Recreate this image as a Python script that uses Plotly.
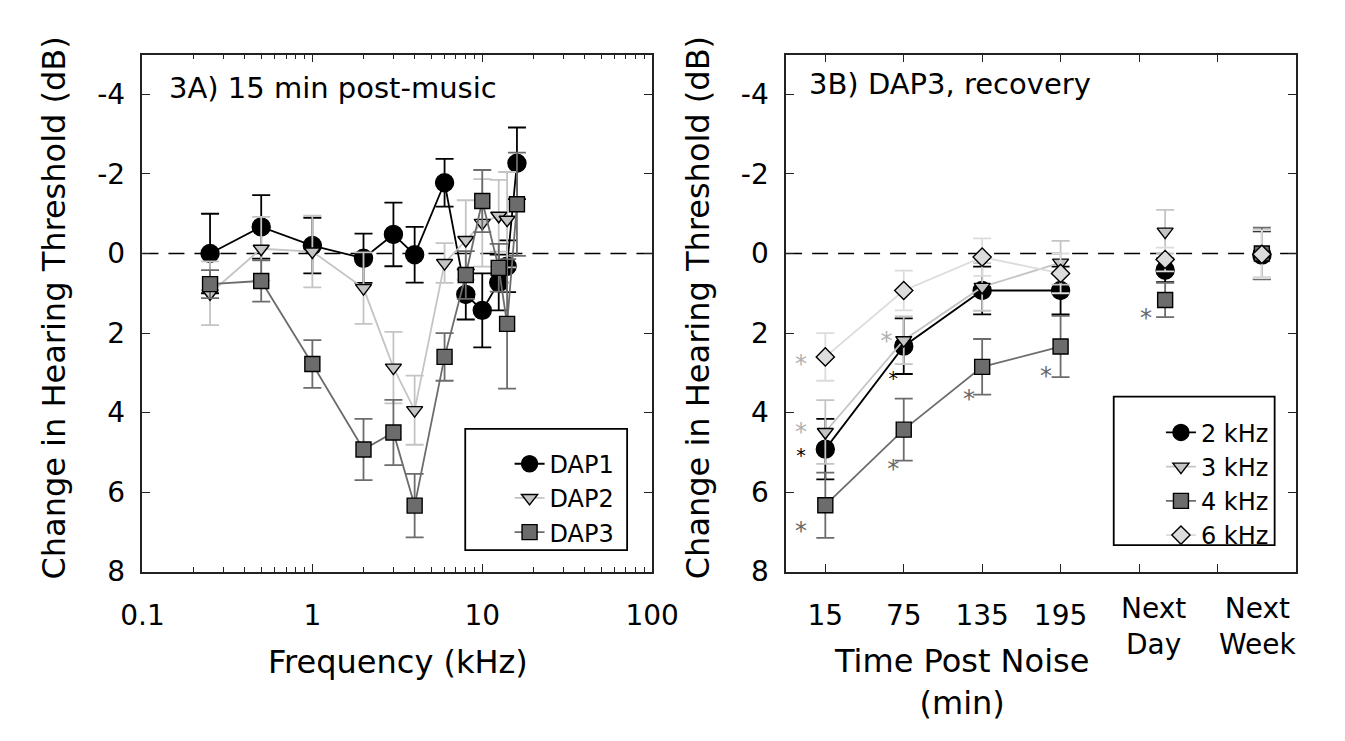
import plotly.graph_objects as go

# ---------------- data : panel 3A ----------------
freq_khz = [0.25, 0.5, 1, 2, 3, 4, 6, 8, 10, 12.5, 14, 16]
dap1 = [0.0, -0.67, -0.2, 0.12, -0.48, 0.03, -1.78, 1.03, 1.43, 0.73, 0.32, -2.27]
dap1_err = [1.0, 0.8, 0.7, 0.62, 0.8, 0.7, 0.6, 0.63, 0.93, 0.7, 0.65, 0.9]
freq_dap2 = [0.25, 0.5, 1, 2, 3, 4, 6, 8, 10, 12.5, 14]
dap2 = [1.0, -0.12, -0.05, 0.87, 2.87, 3.94, 0.24, -0.34, -0.77, -0.95, -0.85]
dap2_err = [0.8, 0.8, 0.9, 0.9, 0.9, 0.87, 0.5, 1.0, 1.1, 0.9, 1.2]
dap3 = [0.77, 0.69, 2.78, 4.93, 4.5, 6.34, 2.6, 0.54, -1.32, 0.36, 1.77, -1.24]
dap3_err = [0.35, 0.52, 0.6, 0.77, 0.82, 0.8, 0.6, 0.6, 0.78, 0.6, 1.63, 1.3]
freq_tickvals = [0.1, 1, 10, 100]
freq_ticktext = ["0.1", "1", "10", "100"]
freq_minor = [0.2, 0.3, 0.4, 0.5, 0.6, 0.7, 0.8, 0.9,
              2, 3, 4, 5, 6, 7, 8, 9, 20, 30, 40, 50, 60, 70, 80, 90]

# ---------------- data : panel 3B ----------------
time_min = [15, 75, 135, 195, 275, 349]
n_connected = 4          # first four time points are joined by lines
time_tickvals = [15, 75, 135, 195, 255, 315]
time_ticktext = ["15", "75", "135", "195", "", ""]
late_labels = ["Next<br>Day", "Next<br>Week"]
late_label_x = [266, 346]
k2 = [4.92, 2.33, 0.93, 0.93, 0.42, 0.04]
k2_err = [0.76, 0.7, 0.6, 0.6, 0.3, 0.6]
k3 = [4.49, 2.18, 0.84, 0.23, -0.55, 0.0]
k3_err = [0.8, 0.6, 0.6, 0.55, 0.55, 0.6]
k4 = [6.33, 4.43, 2.85, 2.34, 1.17, 0.0]
k4_err = [0.82, 0.78, 0.7, 0.77, 0.43, 0.65]
k6 = [2.6, 0.93, 0.09, 0.5, 0.15, 0.02]
k6_err = [0.6, 0.5, 0.47, 0.5, 0.3, 0.6]
star_x = [-3.7, -3.7, -3.7, -3.7, 61.8, 66.9, 66.9, 125, 183.8, 260.3]
star_y = [2.70, 4.42, 5.01, 6.90, 2.14, 3.07, 5.36, 3.60, 3.02, 1.55]
star_group = ["light", "light", "black", "dark", "light", "black", "dark", "dark", "dark", "dark"]

y_ticks = [-4, -2, 0, 2, 4, 6, 8]
y_ticktext = ["-4", "-2", "0", "2", "4", "6", "8"]

# ---------------- style ----------------
FONT = "DejaVu Sans"
BLACK = "#000000"
LIGHT = "#c4c4c4"
DARK = "#6c6c6c"
PALE = "#dcdcdc"
STAR_COL = {"light": "#b0b0b0", "black": "#000000", "dark": "#686868"}
STAR_SIZE = {"light": 24, "black": 19, "dark": 24}
W, H = 1345, 741


def px_x(p):
    return p / W


def px_y(p):
    return (H - p) / H


fig = go.Figure()


def add_series(x, y, err, name, symbol, size, fill, line_col, err_col, xa, ya, legend,
               mode="lines+markers", showlegend=True):
    fig.add_trace(go.Scatter(
        x=x, y=y, name=name, mode=mode, xaxis=xa, yaxis=ya, legend=legend,
        legendgroup=name, showlegend=showlegend,
        line=dict(color=line_col, width=1.8),
        marker=dict(symbol=symbol, size=size, color=fill, line=dict(color=BLACK, width=1.4)),
        error_y=dict(type="data", array=err, visible=True, color=err_col, thickness=1.8, width=9),
    ))


add_series(freq_khz, dap1, dap1_err, "DAP1", "circle", 18, BLACK, BLACK, BLACK, "x", "y", "legend")
add_series(freq_dap2, dap2, dap2_err, "DAP2", "triangle-down", 14, LIGHT, LIGHT, LIGHT, "x", "y", "legend")
add_series(freq_khz, dap3, dap3_err, "DAP3", "square", 15, DARK, DARK, DARK, "x", "y", "legend")

panel_b = [
    (k2, k2_err, "2 kHz", "circle", 18, BLACK, BLACK),
    (k3, k3_err, "3 kHz", "triangle-down", 14, LIGHT, LIGHT),
    (k4, k4_err, "4 kHz", "square", 15, DARK, DARK),
    (k6, k6_err, "6 kHz", "diamond", 14, PALE, PALE),
]
for vals, errs, name, sym, size, fill, col in panel_b:
    add_series(time_min[:n_connected], vals[:n_connected], errs[:n_connected], name, sym, size,
               fill, col, col, "x2", "y2", "legend2")
    add_series(time_min[n_connected:], vals[n_connected:], errs[n_connected:], name, sym, size,
               fill, col, col, "x2", "y2", "legend2", mode="markers", showlegend=False)

# significance asterisks (glyph sits above text-box centre -> small offset)
fig.add_trace(go.Scatter(
    x=star_x, y=[v + 0.12 for v in star_y], mode="text", text=["*"] * len(star_x),
    textfont=dict(family=FONT, size=[STAR_SIZE[g] for g in star_group],
                  color=[STAR_COL[g] for g in star_group]),
    xaxis="x2", yaxis="y2", showlegend=False, hoverinfo="skip",
))

axis_common = dict(
    showline=True, linecolor="#222222", linewidth=1.5, mirror="ticks",
    ticks="inside", ticklen=8, tickwidth=1.3, tickcolor="#222222",
    showgrid=False, zeroline=False,
    tickfont=dict(family=FONT, size=28, color=BLACK),
)

x1_dom = [px_x(125), px_x(654)]
x2_dom = [px_x(793), px_x(1322)]
y_dom = [px_y(585), px_y(56)]

fig.update_layout(
    width=W, height=H, margin=dict(l=0, r=0, t=0, b=0),
    paper_bgcolor="white", plot_bgcolor="white",
    font=dict(family=FONT, color=BLACK),
    xaxis=dict(axis_common, domain=x1_dom, anchor="y", type="log", range=[-1, 2],
               tickvals=freq_tickvals, ticktext=freq_ticktext, ticklabelstandoff=18,
               minor=dict(tickvals=freq_minor, ticks="inside", ticklen=5, tickcolor="#222222", tickwidth=1.2)),
    yaxis=dict(axis_common, domain=y_dom, anchor="x", range=[8, -5],
               tickvals=y_ticks, ticktext=y_ticktext, ticklabelstandoff=10),
    xaxis2=dict(axis_common, domain=x2_dom, anchor="y2", range=[-15, 375],
                tickvals=time_tickvals, ticktext=time_ticktext, ticklabelstandoff=18),
    yaxis2=dict(axis_common, domain=y_dom, anchor="x2", range=[8, -5],
                tickvals=y_ticks, ticktext=y_ticktext, ticklabelstandoff=10),
    legend=dict(x=px_x(506), y=px_y(452), xanchor="left", yanchor="top",
                bgcolor="rgba(0,0,0,0)", borderwidth=0,
                font=dict(family=FONT, size=24, color=BLACK), tracegroupgap=0),
    legend2=dict(x=px_x(1182), y=px_y(420), xanchor="left", yanchor="top",
                 bgcolor="rgba(0,0,0,0)", borderwidth=0,
                 font=dict(family=FONT, size=24, color=BLACK), tracegroupgap=0),
    showlegend=True,
)

# dashed zero reference lines
for xr, yr in (("x", "y"), ("x2", "y2")):
    fig.add_shape(type="line", xref=f"{xr} domain", yref=yr, x0=0, x1=1, y0=0, y1=0,
                  line=dict(color=BLACK, width=1.3, dash="16px,10px"), layer="below")

# legend frames
fig.add_shape(type="rect", xref="paper", yref="paper", x0=px_x(460), x1=px_x(628),
              y0=px_y(563), y1=px_y(439), line=dict(color=BLACK, width=1.8))
fig.add_shape(type="rect", xref="paper", yref="paper", x0=px_x(1133), x1=px_x(1300),
              y0=px_y(558), y1=px_y(406), line=dict(color=BLACK, width=1.8))

title_font = dict(family=FONT, size=32, color=BLACK)
ann = [
    dict(text="Change in Hearing Threshold (dB)", x=px_x(33), y=px_y(315), textangle=-90, font=title_font),
    dict(text="Change in Hearing Threshold (dB)", x=px_x(701), y=px_y(315), textangle=-90, font=title_font),
    dict(text="Frequency (kHz)", x=px_x(390), y=px_y(678), font=title_font),
    dict(text="Time Post Noise<br>(min)", x=px_x(975), y=px_y(698), font=title_font),
]
for a in ann:
    fig.add_annotation(xref="paper", yref="paper", showarrow=False, xanchor="center", yanchor="middle", **a)

fig.add_annotation(text="3A) 15 min post-music", xref="paper", yref="paper", x=px_x(150), y=px_y(90),
                   xanchor="left", yanchor="middle", showarrow=False, font=dict(family=FONT, size=29, color=BLACK))
fig.add_annotation(text="3B) DAP3, recovery", xref="paper", yref="paper", x=px_x(815), y=px_y(86),
                   xanchor="left", yanchor="middle", showarrow=False, font=dict(family=FONT, size=29, color=BLACK))

for lx, lt in zip(late_label_x, late_labels):
    fig.add_annotation(text=lt, xref="x2", yref="paper", x=lx, y=px_y(641), showarrow=False,
                       xanchor="center", yanchor="middle", font=dict(family=FONT, size=28, color=BLACK))

fig.write_html("out.html", config={"displayModeBar": False},
               post_script="document.body.style.margin='0';document.body.style.overflow='hidden';")
